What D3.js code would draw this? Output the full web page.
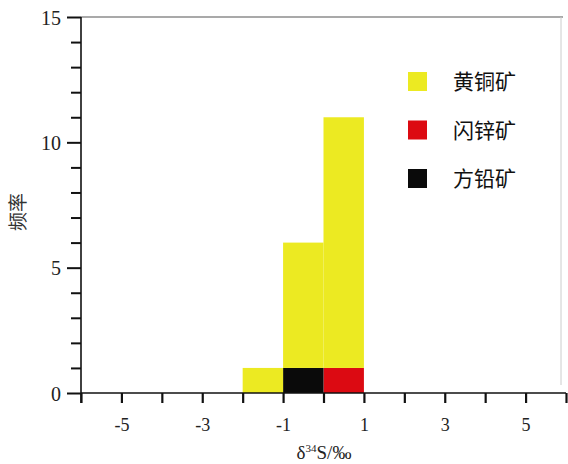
<!DOCTYPE html>
<html>
<head>
<meta charset="utf-8">
<script src="https://cdn.jsdelivr.net/npm/d3@7"></script>
<style>
  body { margin: 0; background: #fff; }
  svg { display: block; }
</style>
</head>
<body>
<div id="chart"></div>
<script>
// data
const binStarts = [-2, -1, 0];
const binWidth = 1;
const chalcopyrite = [1, 5, 10];  // 黄铜矿
const sphalerite = [0, 0, 1];     // 闪锌矿
const galena = [0, 1, 0];         // 方铅矿
const seriesNames = ["黄铜矿", "闪锌矿", "方铅矿"];
const seriesColors = ["#ECEA22", "#DC0A12", "#0A0A0A"];
const xTickValues = [-6, -5, -4, -3, -2, -1, 0, 1, 2, 3, 4, 5, 6];
const xTickLabels = [-5, -3, -1, 1, 3, 5];
const yTickValues = d3.range(0, 16);
const yTickLabels = [0, 5, 10, 15];

const width = 568, height = 464;
const plotL = 81, plotR = 563, plotT = 17, plotB = 393;

const svg = d3.select("#chart")
  .append("svg")
  .attr("width", width)
  .attr("height", height);

const xScale = d3.scaleLinear().domain([-6, 6]).range([plotL, plotR + 3]);
const yScale = d3.scaleLinear().domain([0, 15]).range([plotB, plotT]);

// frame (top + faint right)
svg.append("line")
  .attr("x1", plotL).attr("x2", plotR)
  .attr("y1", plotT).attr("y2", plotT)
  .attr("stroke", "#555").attr("stroke-width", 1.2);
svg.append("line")
  .attr("x1", plotR - 2).attr("x2", plotR - 2)
  .attr("y1", plotT).attr("y2", plotB - 8)
  .attr("stroke", "#ccc").attr("stroke-width", 1);

// stacked bars
const rows = binStarts.map((b, i) => ({
  x0: b,
  "闪锌矿": sphalerite[i],
  "方铅矿": galena[i],
  "黄铜矿": chalcopyrite[i]
}));
const stack = d3.stack().keys(["闪锌矿", "方铅矿", "黄铜矿"]);
const layers = stack(rows);
const color = d3.scaleOrdinal().domain(seriesNames).range(seriesColors);

svg.append("g")
  .selectAll("g")
  .data(layers)
  .enter()
  .append("g")
  .attr("fill", d => color(d.key))
  .selectAll("rect")
  .data(d => d.filter(s => s[1] > s[0]))
  .enter()
  .append("rect")
  .attr("x", d => xScale(d.data.x0))
  .attr("width", d => xScale(d.data.x0 + binWidth) - xScale(d.data.x0))
  .attr("y", d => yScale(d[1]))
  .attr("height", d => yScale(d[0]) - yScale(d[1]));

// y axis
const yAxis = svg.append("g")
  .attr("transform", "translate(" + plotL + ",0)")
  .call(d3.axisLeft(yScale)
    .tickValues(yTickValues)
    .tickSize(0)
    .tickFormat(""));
yAxis.select(".domain").remove();
yAxis.selectAll(".tick line")
  .attr("x2", d => (d % 5 === 0 ? -14 : -10))
  .attr("stroke", "#111")
  .attr("stroke-width", 2);
yAxis.selectAll(".tick")
  .filter(d => yTickLabels.includes(d))
  .append("text")
  .attr("x", -20)
  .attr("dy", "0.35em")
  .attr("text-anchor", "end")
  .attr("fill", "#222")
  .style("font-family", "'Liberation Serif', serif")
  .style("font-size", "20px")
  .text(d => d);
svg.append("line")
  .attr("x1", plotL).attr("x2", plotL)
  .attr("y1", plotT).attr("y2", plotB + 10)
  .attr("stroke", "#111").attr("stroke-width", 1.6);

// x axis
const xAxis = svg.append("g")
  .attr("transform", "translate(0," + plotB + ")")
  .call(d3.axisBottom(xScale)
    .tickValues(xTickValues)
    .tickSize(10)
    .tickFormat(""));
xAxis.select(".domain").remove();
xAxis.selectAll(".tick line")
  .attr("stroke", "#111")
  .attr("stroke-width", 2.2);
xAxis.selectAll(".tick")
  .filter(d => xTickLabels.includes(d))
  .append("text")
  .attr("y", 38)
  .attr("text-anchor", "middle")
  .attr("fill", "#222")
  .style("font-family", "'Liberation Serif', serif")
  .style("font-size", "18px")
  .text(d => d);
svg.append("line")
  .attr("x1", plotL).attr("x2", plotR + 3)
  .attr("y1", plotB).attr("y2", plotB)
  .attr("stroke", "#111").attr("stroke-width", 1.6);

// axis titles
const xTitle = svg.append("text")
  .attr("x", 324)
  .attr("y", 459)
  .attr("text-anchor", "middle")
  .attr("fill", "#222")
  .style("font-family", "'Liberation Serif', serif")
  .style("font-size", "19px");
xTitle.append("tspan").text("δ");
xTitle.append("tspan").attr("dy", -7).style("font-size", "11px").text("34");
xTitle.append("tspan").attr("dy", 7).text("S/‰");

svg.append("text")
  .attr("transform", "translate(25,212) rotate(-90)")
  .attr("text-anchor", "middle")
  .attr("fill", "#333")
  .style("font-family", "'Noto Sans CJK SC', sans-serif")
  .style("font-size", "19px")
  .text("频率");

// legend
const legend = svg.append("g")
  .selectAll("g")
  .data(seriesNames)
  .enter()
  .append("g")
  .attr("transform", (d, i) => "translate(408," + (72 + i * 48.5) + ")");
legend.append("rect")
  .attr("width", 19)
  .attr("height", 19)
  .attr("fill", d => color(d));
legend.append("text")
  .attr("x", 45)
  .attr("y", 10)
  .attr("dy", "0.35em")
  .attr("fill", "#111")
  .style("font-family", "'Noto Sans CJK SC', sans-serif")
  .style("font-size", "21px")
  .text(d => d);
</script>
</body>
</html>
